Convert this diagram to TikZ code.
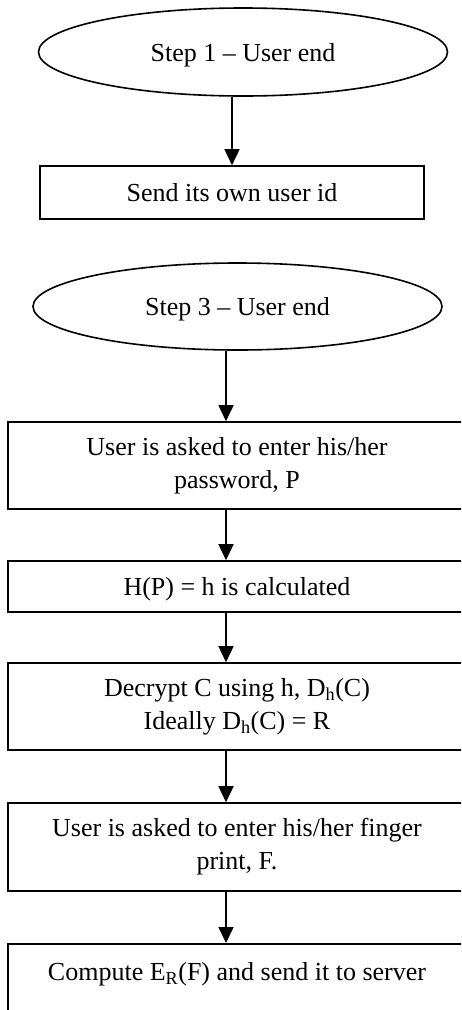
\documentclass[tikz,border=0pt]{standalone}
\usepackage{fontspec}
\setmainfont{Liberation Serif}
\usetikzlibrary{shapes.geometric,arrows.meta}
\begin{document}
\begin{tikzpicture}[x=1pt,y=-1pt,
  every node/.style={font=\fontsize{26}{33}\selectfont},
  terminal/.style={draw,ellipse,line width=1.6pt,inner sep=0pt,
    minimum width=409pt,minimum height=88pt,text height=18pt,text depth=0pt},
  procbox/.style={draw,rectangle,line width=1.6pt,inner sep=0pt,
    align=center,minimum width=458pt},
  oneline/.style={text height=18pt,text depth=0pt},
  flow/.style={line width=1.6pt,-{Triangle[width=15pt,length=16pt]}}]
  \useasboundingbox (0,0) rectangle (461,1010);
  \clip (0,0) rectangle (461,1010);
  \fill[white] (0,0) rectangle (461,1010);

  % step 1
  \node[terminal] (e1) at (243,52) {Step 1 -- User end};
  \node[procbox,oneline,minimum width=384pt,minimum height=53pt]
    (b1) at (232,192.5) {Send its own user id};

  % step 3
  \node[terminal,minimum height=87pt] (e2) at (237.5,306.5) {Step 3 -- User end};
  \node[procbox,minimum height=87pt] (b2) at (237,465.5)
    {User is asked to enter his/her\\password, P};
  \node[procbox,oneline,minimum height=51pt] (b3)
    at (237,586.5) {H(P) = h is calculated};
  \node[procbox,minimum height=87pt] (b4) at (237,706.5)
    {Decrypt C using h, D\textsubscript{h}(C)\\Ideally D\textsubscript{h}(C) = R};
  \node[procbox,minimum height=88pt] (b5) at (237,847)
    {User is asked to enter his/her finger\\print, F.};
  \node[procbox,anchor=north,text height=18pt,text depth=80pt,inner ysep=19pt]
    (b6) at (237,943) {Compute E\textsubscript{R}(F) and send it to server};

  % connectors
  \coordinate (col) at (226,0);
  \draw[flow] (e1.south -| b1.north) -- (b1.north);
  \draw[flow] (e2.south -| col) -- (b2.north -| col);
  \draw[flow] (b2.south -| col) -- (b3.north -| col);
  \draw[flow] (b3.south -| col) -- (b4.north -| col);
  \draw[flow] (b4.south -| col) -- (b5.north -| col);
  \draw[flow] (b5.south -| col) -- (b6.north -| col);
\end{tikzpicture}
\end{document}
